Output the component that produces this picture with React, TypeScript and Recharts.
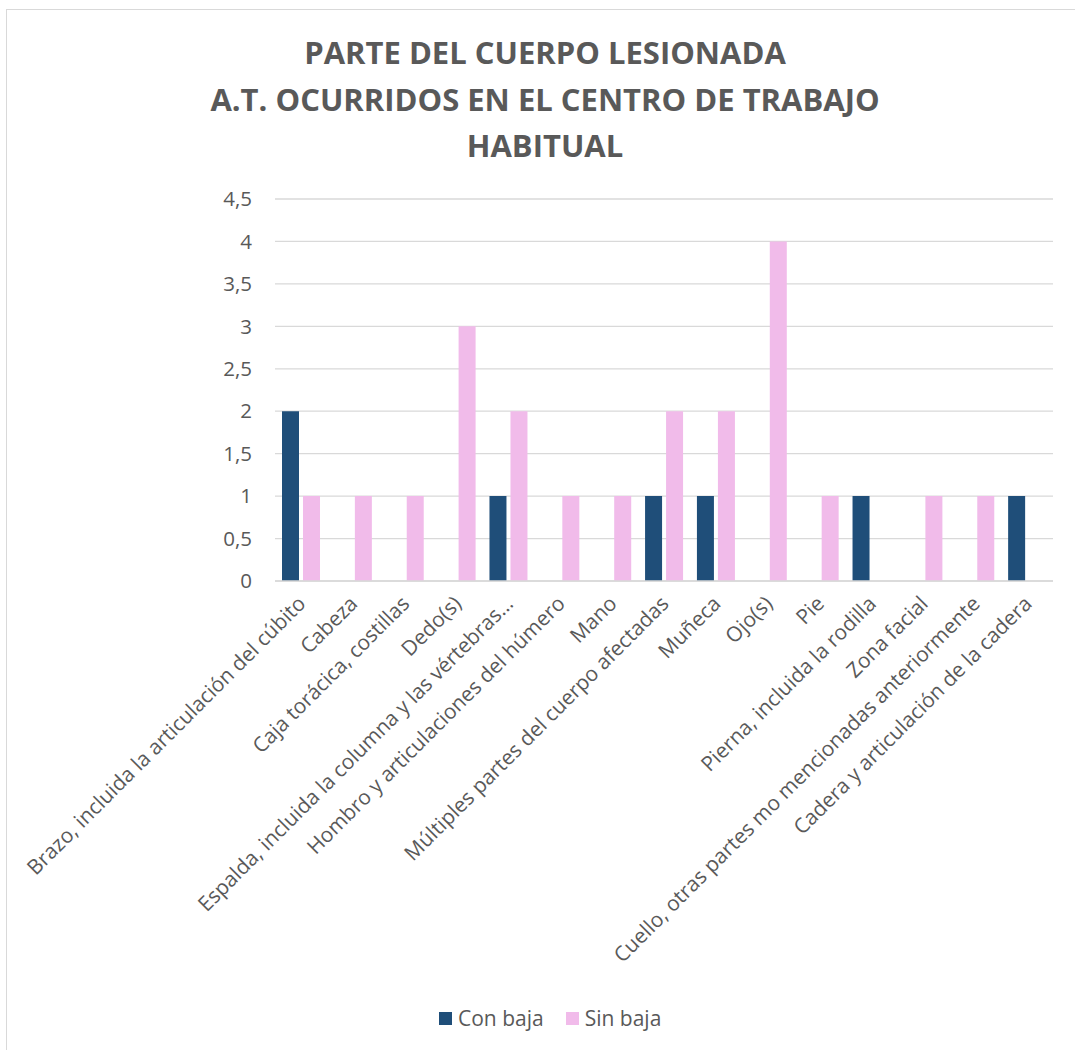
import React from 'react';
import { BarChart, Bar, XAxis, YAxis, CartesianGrid, Legend } from 'recharts';

const categories: string[] = [
  'Brazo, incluida la articulación del cúbito',
  'Cabeza',
  'Caja torácica, costillas',
  'Dedo(s)',
  'Espalda, incluida la columna y las vértebras…',
  'Hombro y articulaciones del húmero',
  'Mano',
  'Múltiples partes del cuerpo afectadas',
  'Muñeca',
  'Ojo(s)',
  'Pie',
  'Pierna, incluida la rodilla',
  'Zona facial',
  'Cuello, otras partes mo mencionadas anteriormente',
  'Cadera y articulación de la cadera',
];

const conBaja: number[] = [2, 0, 0, 0, 1, 0, 0, 1, 1, 0, 0, 1, 0, 0, 1];
const sinBaja: number[] = [1, 1, 1, 3, 2, 1, 1, 2, 2, 4, 1, 0, 1, 1, 0];

const yTicks: number[] = [0, 0.5, 1, 1.5, 2, 2.5, 3, 3.5, 4, 4.5];

const titleLines: string[] = [
  'PARTE DEL CUERPO LESIONADA',
  'A.T. OCURRIDOS EN EL CENTRO DE TRABAJO',
  'HABITUAL',
];

const seriesNames = { con: 'Con baja', sin: 'Sin baja' };

const data = categories.map((name, i) => ({
  name,
  con: conBaja[i],
  sin: sinBaja[i],
}));

const FONT = "'Open Sans', sans-serif";
const TEXT = '#595959';
const GRID = '#d9d9d9';
const BLUE = '#1F4E79';
const PINK = '#F1BBEA';

const XTick = (props: any) => {
  const { x, y, payload } = props;
  const ax = x + 6;
  const ay = y + 24;
  return (
    <text
      x={ax}
      y={ay}
      transform={`rotate(-45 ${ax} ${ay})`}
      textAnchor="end"
      fill={TEXT}
      fontSize={20.8}
      fontFamily={FONT}
    >
      {payload.value}
    </text>
  );
};

const LegendContent = (props: any) => {
  const { payload } = props;
  return (
    <div style={{ display: 'flex', alignItems: 'center', height: 20, fontFamily: FONT, fontSize: 21, color: TEXT, whiteSpace: 'nowrap' }}>
      {(payload || []).map((p: any, i: number) => (
        <div key={i} style={{ display: 'flex', alignItems: 'center', marginRight: 22 }}>
          <span style={{ display: 'inline-block', width: 13, height: 13, background: p.color, marginRight: 6 }} />
          <span style={{ lineHeight: '20px' }}>{p.value}</span>
        </div>
      ))}
    </div>
  );
};

export default function App() {
  return (
    <div
      style={{
        position: 'fixed',
        left: 6,
        top: 9,
        width: 1068,
        height: 1040,
        borderLeft: `1px solid ${GRID}`,
        borderTop: `1px solid ${GRID}`,
        background: '#fff',
        overflow: 'hidden',
      }}
    >
      <div style={{ position: 'absolute', left: 0, top: 19, width: 1076, textAlign: 'center', fontFamily: FONT, fontWeight: 700, fontSize: 31, lineHeight: '46.5px', color: TEXT, zIndex: 2 }}>
        {titleLines.map((t, i) => (
          <div key={i}>{t}</div>
        ))}
      </div>
      <BarChart
        width={1068}
        height={1040}
        data={data}
        margin={{ top: 189, right: 22, left: 208, bottom: 0 }}
        barCategoryGap={7}
        barGap={4}
      >
        <CartesianGrid vertical={false} stroke={GRID} strokeWidth={1.3} />
        <XAxis
          dataKey="name"
          interval={0}
          tickLine={false}
          axisLine={{ stroke: GRID, strokeWidth: 1.3 }}
          tickSize={0}
          tickMargin={0}
          height={449}
          tick={<XTick />}
        />
        <YAxis
          width={60}
          domain={[0, 4.5]}
          ticks={yTicks}
          tickLine={false}
          axisLine={false}
          tickSize={8}
          tickMargin={15}
          tick={{ fill: TEXT, fontSize: 20.5, fontFamily: FONT }}
          tickFormatter={(v: number) => String(v).replace('.', ',')}
        />
        <Legend
          verticalAlign="bottom"
          height={20}
          wrapperStyle={{ top: 998, left: 432, bottom: 'auto', width: 'auto', height: 20 }}
          content={<LegendContent />}
        />
        <Bar dataKey="con" name={seriesNames.con} fill={BLUE} isAnimationActive={false} />
        <Bar dataKey="sin" name={seriesNames.sin} fill={PINK} isAnimationActive={false} />
      </BarChart>
    </div>
  );
}
